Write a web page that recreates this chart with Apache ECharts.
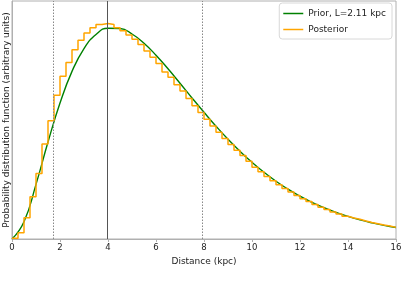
<!DOCTYPE html>
<html><head><meta charset="utf-8">
<script src="https://cdn.jsdelivr.net/npm/echarts@6/dist/echarts.min.js"></script>
<style>html,body{margin:0;padding:0;background:#fff}#c{width:403px;height:302px}</style>
</head><body><div id="c"></div>
<script>
const priorX = [0,0.5,1,1.5,2,2.5,3,3.5,4,4.5,5,5.5,6,6.5,7,7.5,8,8.5,9,9.5,10,10.5,11,11.5,12,12.5,13,13.5,14,14.5,15,15.5,16];
const priorY = [0,0.0818,0.2583,0.4586,0.6432,0.7930,0.9010,0.9676,0.9972,0.9958,0.9700,0.9261,0.8696,0.8052,0.7369,0.6674,0.5995,0.5337,0.4720,0.4150,0.3628,0.3156,0.2733,0.2357,0.2025,0.1734,0.1480,0.1259,0.1068,0.0904,0.0764,0.0643,0.0541];
// Posterior histogram: bin width 0.25 kpc, values per bin
const binWidth = 0.25;
const postY = [0.004,0.03,0.10,0.20,0.31,0.45,0.56,0.68,0.77,0.835,0.895,0.94,0.975,1.0,1.015,1.02,
 1.015,1.0,0.985,0.965,0.945,0.92,0.89,0.86,0.83,0.79,0.765,0.73,0.70,0.665,0.63,0.598,
 0.567,0.535,0.505,0.475,0.447,0.42,0.395,0.368,0.340,0.318,0.296,0.276,0.257,0.239,0.222,0.206,
 0.190,0.177,0.163,0.150,0.139,0.128,0.118,0.108,0.099,0.093,0.085,0.078,0.072,0.066,0.061,0.055];
const vlinesDotted = [1.72, 7.91];
const vlineSolid = [3.98];

const priorData = priorX.map((x,i)=>[x, priorY[i]]);
const postData = postY.map((v,i)=>[i*binWidth, v]);
postData.push([postY.length*binWidth, postY[postY.length-1]]);

const chart = echarts.init(document.getElementById('c'));
const font = 'DejaVu Sans';
const lineIcon = 'path://M0,0 L20,0 L20,1.5 L0,1.5 Z';
chart.setOption({
  animation:false,
  grid:{left:12,right:7,top:1,bottom:63,show:true,borderColor:'#b0b0b0',borderWidth:1,
        containLabel:false,outerBoundsMode:'none'},
  legend:{
    orient:'vertical', right:11, top:3, itemWidth:20, itemHeight:1.5, itemGap:7,
    padding:[6,6,5,4], backgroundColor:'#fff', borderColor:'#d8d8d8', borderWidth:1, borderRadius:3,
    textStyle:{fontFamily:font,fontSize:9,color:'#222'},
    data:[{name:'Prior, L=2.11 kpc',icon:lineIcon},{name:'Posterior',icon:lineIcon}]
  },
  xAxis:{type:'value',min:0,max:16,interval:2,
    name:'Distance (kpc)',nameLocation:'middle',nameGap:15,
    nameTextStyle:{fontFamily:font,fontSize:9,color:'#222'},
    axisLine:{show:true,lineStyle:{color:'#b0b0b0'}},
    axisTick:{show:true,length:3,lineStyle:{color:'#b0b0b0'}},
    axisLabel:{fontFamily:font,fontSize:8.5,color:'#222',margin:4},
    splitLine:{show:false}},
  yAxis:{type:'value',min:0,max:1.126,
    name:'Probability distribution function (arbitrary units)',nameLocation:'middle',nameGap:1,
    nameTextStyle:{fontFamily:font,fontSize:9,color:'#222'},
    axisLine:{show:true,lineStyle:{color:'#b0b0b0'}},
    axisTick:{show:false},axisLabel:{show:false},splitLine:{show:false}},
  series:[
    {name:'Prior, L=2.11 kpc',type:'line',data:priorData,smooth:true,symbol:'none',
     lineStyle:{color:'#008000',width:1.4},itemStyle:{color:'#008000'},z:3,
     markLine:{silent:true,symbol:'none',label:{show:false},
       data:[
         ...vlinesDotted.map(v=>({xAxis:v,lineStyle:{color:'#888',type:[1.5,1.5],width:1}})),
         ...vlineSolid.map(v=>({xAxis:v,lineStyle:{color:'#555',type:'solid',width:1}}))
       ]}},
    {name:'Posterior',type:'line',data:postData,step:'end',symbol:'none',
     lineStyle:{color:'#ffa500',width:1.5},itemStyle:{color:'#ffa500'},z:4}
  ]
});
</script></body></html>
